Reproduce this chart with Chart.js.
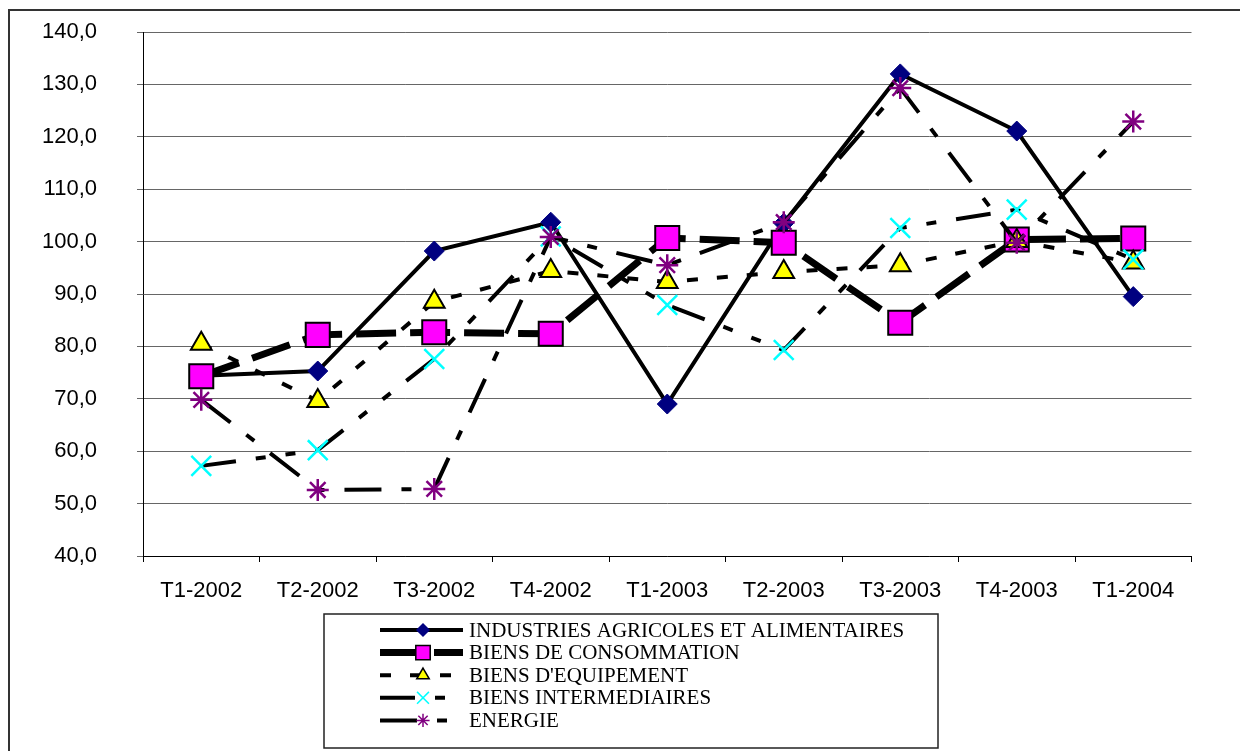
<!DOCTYPE html>
<html>
<head>
<meta charset="utf-8">
<script src="https://cdn.jsdelivr.net/npm/chart.js@4.4.0/dist/chart.umd.min.js"></script>
<style>
  body { margin: 0; background: #fff; }
  #wrap { position: relative; width: 1240px; height: 751px; overflow: hidden; }
  #frame { position: absolute; left: 8px; top: 9px; width: 1300px; height: 800px; border-left: 2px solid #333; border-top: 2px solid #333; }
  canvas { position: absolute; left: 0; top: 0; }
</style>
</head>
<body>
<div id="wrap">
  <div id="frame"></div>
  <canvas id="chart" width="1240" height="751"></canvas>
</div>
<script>
const periods = ['T1-2002', 'T2-2002', 'T3-2002', 'T4-2002', 'T1-2003', 'T2-2003', 'T3-2003', 'T4-2003', 'T1-2004'];
const industries = [74.4, 75.3, 98.2, 103.7, 69.0, 103.5, 132.0, 121.1, 89.5];
const consommation = [74.3, 82.2, 82.7, 82.4, 100.7, 99.8, 84.5, 100.4, 100.6];
const equipement = [80.5, 69.6, 88.5, 94.4, 92.3, 94.2, 95.5, 100.1, 96.0];
const intermediaires = [57.2, 60.2, 77.6, 101.0, 87.9, 79.3, 102.6, 106.1, 96.6];
const energie = [69.8, 52.6, 52.8, 100.9, 95.5, 103.7, 129.3, 99.8, 122.9];
const yMin = 40, yMax = 140, yStep = 10;

// legend drawn like the office-style box under the plot
const boxLegend = {
  id: 'boxLegend',
  afterDraw(chart) {
    const ctx = chart.ctx;
    const left = 324, top = 614, right = 938, bottom = 748;
    ctx.save();
    ctx.strokeStyle = '#222';
    ctx.lineWidth = 1.5;
    ctx.strokeRect(left, top, right - left, bottom - top);
    chart.data.datasets.forEach((ds, i) => {
      const y = 630 + i * 22.6;
      ctx.save();
      ctx.strokeStyle = ds.borderColor;
      ctx.lineWidth = ds.borderWidth;
      ctx.setLineDash(ds.borderDash || []);
      ctx.beginPath();
      ctx.moveTo(380, y);
      ctx.lineTo(463, y);
      ctx.stroke();
      ctx.restore();
      ctx.save();
      ctx.fillStyle = ds.pointBackgroundColor;
      ctx.strokeStyle = ds.pointBorderColor;
      Chart.helpers.drawPoint(ctx, {
        pointStyle: ds.pointStyle,
        radius: ds.pointRadius * 0.6,
        rotation: 0,
        borderWidth: ds.pointBorderWidth
      }, 423, y);
      ctx.restore();
      ctx.fillStyle = '#000';
      ctx.font = '21px "Liberation Serif", "Times New Roman", serif';
      ctx.textBaseline = 'middle';
      ctx.fillText(ds.label, 469, y + 1);
    });
    ctx.restore();
  }
};

new Chart(document.getElementById('chart'), {
  type: 'line',
  data: {
    labels: periods,
    datasets: [
      { label: 'INDUSTRIES AGRICOLES ET ALIMENTAIRES', data: industries, order: 5,
        borderColor: '#000', borderWidth: 4, borderDash: [],
        pointStyle: 'rectRot', pointRadius: 10, pointBackgroundColor: '#000080', pointBorderColor: '#000080', pointBorderWidth: 1 },
      { label: 'BIENS DE CONSOMMATION', data: consommation, order: 4,
        borderColor: '#000', borderWidth: 7, borderDash: [40, 14],
        pointStyle: 'rect', pointRadius: 17, pointBackgroundColor: '#ff00ff', pointBorderColor: '#000', pointBorderWidth: 2 },
      { label: "BIENS D'EQUIPEMENT", data: equipement, order: 3,
        borderColor: '#000', borderWidth: 4, borderDash: [11, 19],
        pointStyle: 'triangle', pointRadius: 12, pointBackgroundColor: '#ffff00', pointBorderColor: '#000', pointBorderWidth: 2 },
      { label: 'BIENS INTERMEDIAIRES', data: intermediaires, order: 2,
        borderColor: '#000', borderWidth: 4, borderDash: [35, 20, 10, 20, 10, 20],
        pointStyle: 'crossRot', pointRadius: 14, pointBackgroundColor: '#00ffff', pointBorderColor: '#00ffff', pointBorderWidth: 2.5 },
      { label: 'ENERGIE', data: energie, order: 1,
        borderColor: '#000', borderWidth: 4, borderDash: [37, 20, 10, 20],
        pointStyle: 'star', pointRadius: 11, pointBackgroundColor: '#800080', pointBorderColor: '#800080', pointBorderWidth: 2.5 }
    ]
  },
  options: {
    responsive: false,
    animation: false,
    layout: { padding: { left: 0, top: 32, right: 48.5, bottom: 0 } },
    plugins: { legend: { display: false }, tooltip: { enabled: false } },
    elements: { line: { tension: 0, fill: false, borderCapStyle: 'butt', borderJoinStyle: 'miter' } },
    scales: {
      x: {
        offset: true,
        afterFit: s => { s.height = 195; },
        grid: { offset: true, drawOnChartArea: false, drawTicks: true, tickLength: 6, color: '#000' },
        border: { color: '#000', width: 1 },
        ticks: { color: '#000', padding: 16, maxRotation: 0, font: { family: '"Liberation Sans", Arial, sans-serif', size: 22 } }
      },
      y: {
        min: yMin, max: yMax,
        afterFit: s => { s.width = 143; s.paddingTop = 0; s.paddingBottom = 0; },
        grid: { color: '#666', lineWidth: 1, tickLength: 6, drawTicks: true },
        border: { color: '#000', width: 1 },
        ticks: {
          stepSize: yStep, padding: 40, color: '#000',
          font: { family: '"Liberation Sans", Arial, sans-serif', size: 22 },
          callback: v => v.toFixed(1).replace('.', ',')
        }
      }
    }
  },
  plugins: [boxLegend]
});
</script>
</body>
</html>
